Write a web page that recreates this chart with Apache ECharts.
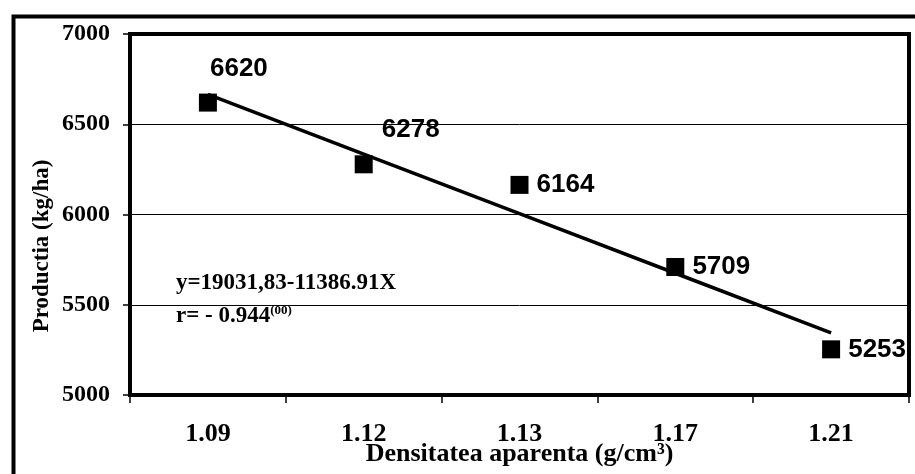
<!DOCTYPE html>
<html>
<head>
<meta charset="utf-8">
<script src="https://cdn.jsdelivr.net/npm/echarts@6/dist/echarts.min.js"></script>
<style>
  html, body { margin: 0; padding: 0; background: #fff; }
  #chart { width: 915px; height: 474px; }
</style>
</head>
<body>
<div id="chart"></div>
<script>
// ---- data ----
const categories = ['1.09', '1.12', '1.13', '1.17', '1.21'];
const production = [6620, 6278, 6164, 5709, 5253];
const yTicks = [5000, 5500, 6000, 6500, 7000];
const xAxisTitle = 'Densitatea aparenta (g/cm³)';
const yAxisTitle = 'Productia (kg/ha)';
const equationText = 'y=19031,83-11386.91X';
const rText = 'r= - 0.944';
const rSup = '(00)';

// linear trend (Excel-style, x = 1..n) computed from the data
const n = production.length;
const xs = production.map((_, i) => i + 1);
const mx = xs.reduce((a, b) => a + b, 0) / n;
const my = production.reduce((a, b) => a + b, 0) / n;
let sxy = 0, sxx = 0;
for (let i = 0; i < n; i++) { sxy += (xs[i] - mx) * (production[i] - my); sxx += (xs[i] - mx) ** 2; }
const slope = sxy / sxx;
const intercept = my - slope * mx;
const trend = xs.map(x => intercept + slope * x);

// label offsets (layout, not data)
const labelOffsets = [[31, -34], [47, -34], [46, 0], [46, 0], [46, 0]];

const serif = 'Liberation Serif';
const sans = 'Liberation Sans';

const chart = echarts.init(document.getElementById('chart'), null, { renderer: 'canvas' });
chart.setOption({
  animation: false,
  backgroundColor: '#fff',
  grid: {
    left: 130, top: 34, right: 6, bottom: 79,
    outerBoundsMode: 'none',
    containLabel: false,
    show: true, borderColor: '#000', borderWidth: 4, backgroundColor: 'transparent'
  },
  xAxis: {
    type: 'category',
    data: categories,
    boundaryGap: true,
    name: xAxisTitle,
    nameLocation: 'middle',
    nameGap: 46,
    nameMoveOverlap: false,
    nameTextStyle: { fontFamily: serif, fontWeight: 'bold', fontSize: 26, color: '#000' },
    axisLine: { lineStyle: { color: '#000', width: 4 } },
    axisTick: { show: true, length: 8, lineStyle: { color: '#000', width: 1.5 } },
    axisLabel: { fontFamily: serif, fontWeight: 'bold', fontSize: 26, color: '#000', margin: 26 },
    splitLine: { show: false }
  },
  yAxis: {
    type: 'value',
    min: yTicks[0], max: yTicks[yTicks.length - 1], interval: 500,
    axisLine: { show: true, lineStyle: { color: '#000', width: 4 } },
    axisTick: { show: true, length: 7, lineStyle: { color: '#000', width: 1.5 } },
    axisLabel: {
      fontFamily: serif, fontWeight: 'bold', fontSize: 24, color: '#000', margin: 20,
      formatter: v => String(v)
    },
    splitLine: { show: true, lineStyle: { color: '#000', width: 1 } }
  },
  series: [
    {
      type: 'scatter',
      symbol: 'rect',
      symbolSize: 18,
      itemStyle: { color: '#000', opacity: 1 },
      z: 2,
      data: production.map((v, i) => ({
        value: v,
        label: {
          show: true, position: 'inside', offset: labelOffsets[i],
          formatter: String(v),
          fontFamily: sans, fontWeight: 'bold', fontSize: 26, color: '#000'
        }
      }))
    },
    {
      type: 'line',
      data: trend,
      symbol: 'none',
      z: 3,
      lineStyle: { color: '#000', width: 3.5 },
      silent: true
    }
  ],
  graphic: [
    {
      type: 'rect', left: 11, top: 14, z: 100, silent: true,
      shape: { x: 0, y: 0, width: 1000, height: 1000 },
      style: { fill: 'none', stroke: '#000', lineWidth: 4 }
    },
    {
      type: 'text', x: 42, y: 246, rotation: Math.PI / 2, z: 50,
      style: {
        text: yAxisTitle, font: 'bold 23px "Liberation Serif"', fill: '#000',
        textAlign: 'center', textVerticalAlign: 'middle'
      }
    },
    {
      type: 'text', left: 176, top: 272, z: 50,
      style: { text: equationText, font: 'bold 23px "Liberation Serif"', fill: '#000' }
    },
    {
      type: 'text', left: 176, top: 304, z: 50,
      style: {
        text: '{a|' + rText + '}{s|' + rSup + '}',
        fill: '#000',
        rich: {
          a: { fontFamily: serif, fontWeight: 'bold', fontSize: 23, color: '#000' },
          s: { fontFamily: serif, fontWeight: 'bold', fontSize: 13, color: '#000', padding: [0, 0, 12, 0] }
        }
      }
    }
  ]
});
</script>
</body>
</html>
